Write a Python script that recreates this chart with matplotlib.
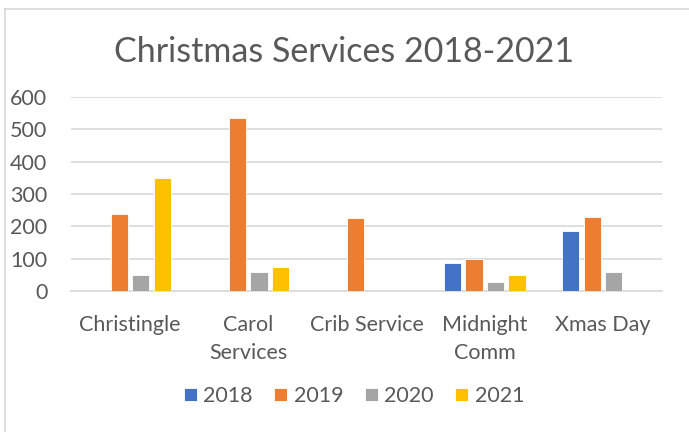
import matplotlib
matplotlib.use('Agg')
import matplotlib.pyplot as plt
from matplotlib.lines import Line2D
import numpy as np

#chart data
services = ['Christingle', 'Carol\nServices', 'Crib Service', 'Midnight\nComm', 'Xmas Day']
years = ['2018', '2019', '2020', '2021']
y2018 = [0, 0, 0, 86, 185]
y2019 = [237, 534, 226, 98, 228]
y2020 = [48, 59, 0, 28, 59]
y2021 = [349, 73, 0, 48, 0]
colours = ['#4472C4', '#ED7D31', '#A5A5A5', '#FFC000']

plt.rcParams['font.family'] = ['Lato', 'DejaVu Sans']
textcol = '#595959'

fig = plt.figure(figsize=(6.89, 4.32), dpi=100)
ax = fig.add_axes([71/689, 1 - 291/432, 591/689, 194/432])

x = np.arange(len(services))
step = 0.182
width = 0.146
for i, (vals, yr) in enumerate(zip([y2018, y2019, y2020, y2021], years)):
    ax.bar(x + (i - 1.5) * step, vals, width, color=colours[i], label=yr,
           edgecolor='white', linewidth=0.6, zorder=3)

ax.set_xlim(-0.5, len(services) - 0.5)
ax.set_ylim(0, 600)
ax.set_yticks(range(0, 601, 100))
ax.yaxis.grid(True, color='#D9D9D9', linewidth=1.2, zorder=0)
ax.set_xticks(x)
ax.set_xticklabels(services, linespacing=1.5)
ax.tick_params(axis='both', length=0, labelsize=15.5, labelcolor=textcol)
ax.tick_params(axis='x', pad=17)
ax.tick_params(axis='y', pad=17)
for side in ['top', 'right', 'left']:
    ax.spines[side].set_visible(False)
ax.spines['bottom'].set_color('#D9D9D9')
ax.spines['bottom'].set_linewidth(1.2)

fig.text(0.5, 1 - 52/432, 'Christmas Services 2018-2021', ha='center', va='center',
         fontsize=24.5, color=textcol)

fig.legend(loc='center', bbox_to_anchor=(354/689, 1 - 396/432), ncol=4, frameon=False,
           fontsize=15.5, labelcolor=textcol, handlelength=0.6, handleheight=0.6,
           handletextpad=0.3, columnspacing=1.0)

#outer border of the chart box
fig.add_artist(Line2D([4.5/689, 1], [1 - 8.5/432] * 2, color='#D9D9D9', linewidth=1.2))
fig.add_artist(Line2D([4.5/689] * 2, [0, 1 - 8.5/432], color='#D9D9D9', linewidth=1.2))

fig.savefig('out.png', dpi=100, facecolor='white')
